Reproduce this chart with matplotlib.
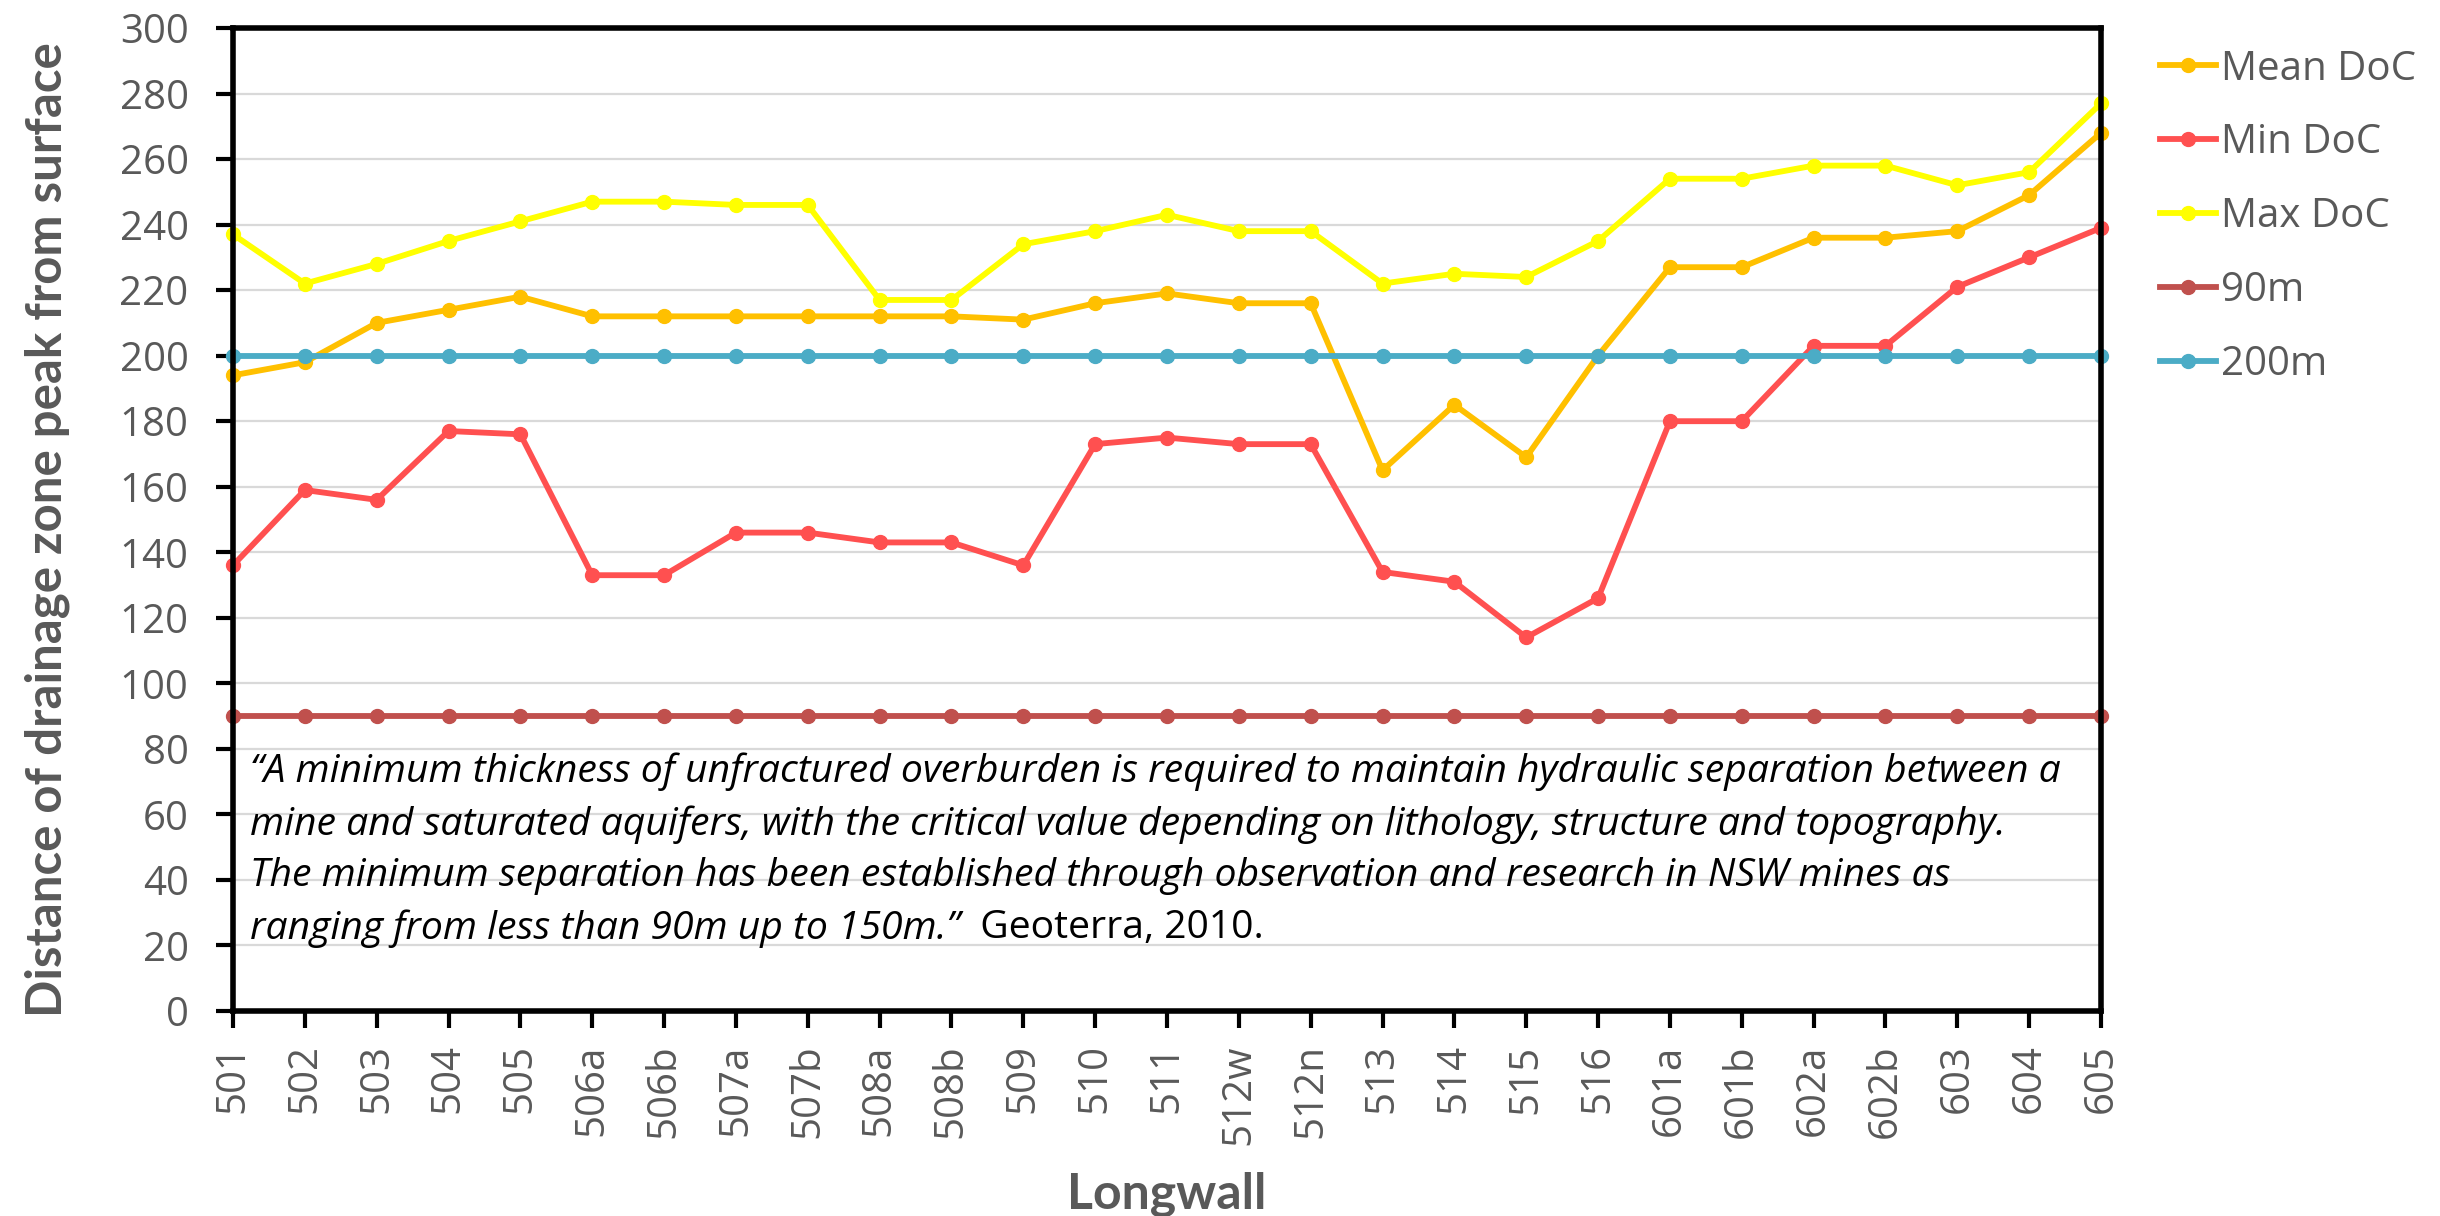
import matplotlib
matplotlib.use("Agg")
import matplotlib.pyplot as plt

# data
longwalls = ["501", "502", "503", "504", "505", "506a", "506b", "507a", "507b", "508a",
             "508b", "509", "510", "511", "512w", "512n", "513", "514", "515", "516",
             "601a", "601b", "602a", "602b", "603", "604", "605"]
mean_doc = [194, 198, 210, 214, 218, 212, 212, 212, 212, 212,
            212, 211, 216, 219, 216, 216, 165, 185, 169, 200,
            227, 227, 236, 236, 238, 249, 268]
min_doc = [136, 159, 156, 177, 176, 133, 133, 146, 146, 143,
           143, 136, 173, 175, 173, 173, 134, 131, 114, 126,
           180, 180, 203, 203, 221, 230, 239]
max_doc = [237, 222, 228, 235, 241, 247, 247, 246, 246, 217,
           217, 234, 238, 243, 238, 238, 222, 225, 224, 235,
           254, 254, 258, 258, 252, 256, 277]
line_90 = [90] * len(longwalls)
line_200 = [200] * len(longwalls)

series = [("Mean DoC", mean_doc, "#FFC000"),
          ("Min DoC", min_doc, "#FF5050"),
          ("Max DoC", max_doc, "#FFFF00"),
          ("90m", line_90, "#C0504D"),
          ("200m", line_200, "#4BACC6")]

grey = "#595959"
plt.rcParams['font.family'] = 'Open Sans'

fig = plt.figure(figsize=(24.4, 12.16), dpi=100)
ax = fig.add_axes([233/2440, 1 - 1011/1216, 1868/2440, 983/1216])

x = list(range(len(longwalls)))
for name, vals, col in series:
    ax.plot(x, vals, color=col, lw=4.2, marker="o", ms=10, label=name, clip_on=False, zorder=3)

ax.set_xlim(0, len(longwalls) - 1)
ax.set_ylim(0, 300)
ax.set_yticks(range(0, 301, 20))
ax.set_xticks(x)
ax.set_xticklabels(longwalls, rotation=90)
ax.grid(axis="y", color="#d9d9d9", lw=1.6, zorder=0)
ax.set_axisbelow(True)

for s in ax.spines.values():
    s.set_linewidth(4)
    s.set_zorder(4)
ax.tick_params(axis="x", length=12, width=3, colors="black", labelcolor=grey,
               labelsize=29, pad=12, direction="out")
ax.tick_params(axis="y", length=12, width=3, colors="black", labelcolor=grey,
               labelsize=29, pad=20, direction="out")

ax.set_ylabel("Distance of drainage zone peak from surface", fontsize=34,
              fontweight="bold", color=grey, family="Lato")
ax.set_xlabel("Longwall", fontsize=34, fontweight="bold", color=grey, family="Lato")
ax.yaxis.set_label_coords(-0.087, 0.49)
ax.xaxis.set_label_coords(0.5, -0.163)

leg = fig.legend(loc="upper left", bbox_to_anchor=(2160/2440, 1 - 49/1216), frameon=False,
                 fontsize=29, handlelength=1.4, handletextpad=0.12, labelspacing=0.83,
                 borderpad=0, borderaxespad=0, labelcolor=grey)

# quote
quote = ["\u201cA minimum thickness of unfractured overburden is required to maintain hydraulic separation between a",
         "mine and saturated aquifers, with the critical value depending on lithology, structure and topography.",
         "The minimum separation has been established through observation and research in NSW mines as",
         "ranging from less than 90m up to 150m.\u201d"]
ys = [73.0, 57.0, 41.2, 25.2]
txts = []
for line, yy in zip(quote, ys):
    txts.append(ax.text(0.23, yy, line, fontsize=26, style="italic", family="Open Sans",
                        color="black", va="center", ha="left", zorder=5))

# scale the quote and axis labels to the widths they have in the original
r = fig.canvas.get_renderer()
k = 1812 / txts[0].get_window_extent(r).width
for t in txts:
    t.set_fontsize(t.get_fontsize() * k)
k = 975 / ax.yaxis.label.get_window_extent(r).height
ax.yaxis.label.set_fontsize(ax.yaxis.label.get_fontsize() * k)
k = 200 / ax.xaxis.label.get_window_extent(r).width
ax.xaxis.label.set_fontsize(ax.xaxis.label.get_fontsize() * k)

ax.annotate("  Geoterra, 2010.", xy=(1, 0.5), xycoords=txts[-1], va="center", ha="left",
            fontsize=txts[-1].get_fontsize(), family="Open Sans", color="black")

fig.savefig("out.png", dpi=100)
